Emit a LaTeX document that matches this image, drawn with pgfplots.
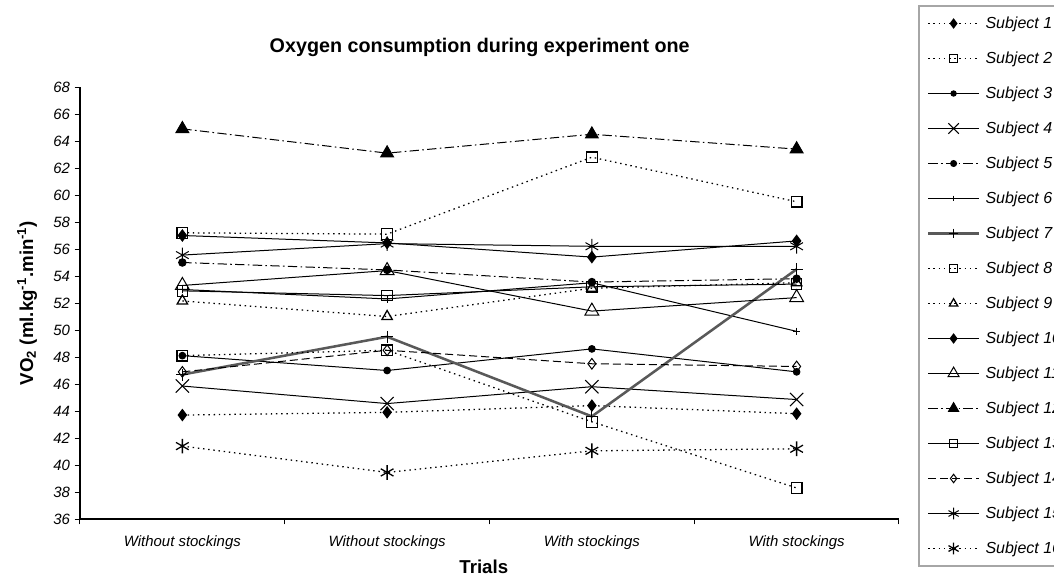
\documentclass[border=0pt]{standalone}
\usepackage{fontspec}
\setmainfont{Liberation Sans}
\usepackage{pgfplots}
\pgfplotsset{compat=1.18}
\tikzset{
  dotline/.style={line width=0.95pt, dash pattern=on 1.1pt off 2.8pt},
  dashdotline/.style={dash pattern=on 7pt off 2.5pt on 1.2pt off 2.5pt},
  dashline/.style={dash pattern=on 6pt off 3pt},
}
\begin{document}
\begin{tikzpicture}
\path[use as bounding box] (0,0) rectangle (790.5pt,432pt);
\begin{axis}[
  scale only axis, width=614.25pt, height=324pt,
  at={(60pt,42.75pt)}, anchor=south west,
  xmin=-0.5, xmax=3.5, ymin=36, ymax=68,
  axis x line*=bottom, axis y line*=left,
  axis line style={line width=0.9pt, black},
  xtick={0,1,2,3},
  xticklabels={Without stockings,Without stockings,With stockings,With stockings},
  major x tick style={draw=none},
  minor xtick={-0.5,0.5,1.5,2.5,3.5},
  ytick={36,38,...,68},
  tick align=outside, major tick length=4pt, minor tick length=4pt,
  every tick/.style={black, line width=0.75pt},
  ticklabel style={font=\fontsize{11.2}{13}\selectfont\itshape},
  /pgf/number format/assume math mode=true,
  xticklabel style={anchor=center, yshift=-14pt},
  title={Oxygen consumption during experiment one},
  title style={font=\bfseries\fontsize{14.8}{16}\selectfont, at={(axis description cs:0.488,1.072)}, anchor=center, yshift=0pt},
  xlabel={Trials},
  xlabel style={font=\bfseries\fontsize{14}{16}\selectfont, at={(axis description cs:0.493,-0.111)}, anchor=center},
  ylabel={VO\textsubscript{2} (ml.kg\textsuperscript{-1}.min\textsuperscript{-1})},
  ylabel style={font=\bfseries\fontsize{14}{16}\selectfont, at={(axis description cs:-0.0647,0.5)}, anchor=center},
  legend style={at={(axis description cs:1.0232,1.1898)}, anchor=north west,
    draw=gray!70, line width=1.5pt, fill=white,
    inner xsep=6pt, inner ysep=0pt,
    font=\fontsize{12}{14}\selectfont\itshape,
    nodes={inner sep=0pt, minimum height=26.25pt, line width=0.75pt},
    row sep=0pt, column sep=4pt},
  legend cell align=left,
  legend image code/.code={\draw[mark repeat=2,mark phase=2,#1,every mark/.append style={scale=0.8}] plot coordinates {(0pt,0pt)(19pt,0pt)(38pt,0pt)};},
]
\addplot[black, line width=0.75pt, dotline, mark=diamond*, mark size=4pt, mark options={solid,fill=black}] coordinates {(0,43.7)(1,43.9)(2,44.4)(3,43.8)};
\addlegendentry{Subject 1}
\addplot[black, line width=0.75pt, dotline, mark=square, mark size=4pt, mark options={solid}] coordinates {(0,57.2)(1,57.1)(2,62.8)(3,59.5)};
\addlegendentry{Subject 2}
\addplot[black, line width=0.75pt, mark=*, mark size=2.5pt, mark options={solid,fill=black}] coordinates {(0,48.1)(1,47.0)(2,48.6)(3,46.9)};
\addlegendentry{Subject 3}
\addplot[black, line width=0.75pt, mark=x, mark size=7pt, mark options={solid}] coordinates {(0,45.85)(1,44.55)(2,45.8)(3,44.85)};
\addlegendentry{Subject 4}
\addplot[black, line width=0.75pt, dashdotline, mark=*, mark size=2.8pt, mark options={solid,fill=black}] coordinates {(0,55.0)(1,54.45)(2,53.55)(3,53.8)};
\addlegendentry{Subject 5}
\addplot[black, line width=0.75pt, mark=+, mark size=2.8pt, mark options={solid}] coordinates {(0,53.0)(1,52.3)(2,53.5)(3,49.9)};
\addlegendentry{Subject 6}
\addplot[black!65, line width=1.9pt, mark=+, mark size=4.5pt, mark options={solid,black,line width=0.75pt}] coordinates {(0,46.7)(1,49.5)(2,43.6)(3,54.5)};
\addlegendentry{Subject 7}
\addplot[black, line width=0.75pt, dotline, mark=square, mark size=4pt, mark options={solid}] coordinates {(0,48.1)(1,48.5)(2,43.2)(3,38.3)};
\addlegendentry{Subject 8}
\addplot[black, line width=0.75pt, dotline, mark=triangle, mark size=4.5pt, mark options={solid}] coordinates {(0,52.15)(1,51.0)(2,53.1)(3,53.5)};
\addlegendentry{Subject 9}
\addplot[black, line width=0.75pt, mark=diamond*, mark size=4.2pt, mark options={solid,fill=black}] coordinates {(0,57.0)(1,56.45)(2,55.4)(3,56.6)};
\addlegendentry{Subject 10}
\addplot[black, line width=0.75pt, mark=triangle, mark size=6pt, mark options={solid}] coordinates {(0,53.3)(1,54.4)(2,51.4)(3,52.4)};
\addlegendentry{Subject 11}
\addplot[black, line width=0.75pt, dashdotline, mark=triangle*, mark size=5.5pt, mark options={solid,fill=black}] coordinates {(0,64.9)(1,63.1)(2,64.5)(3,63.4)};
\addlegendentry{Subject 12}
\addplot[black, line width=0.75pt, mark=square, mark size=4pt, mark options={solid}] coordinates {(0,52.9)(1,52.55)(2,53.2)(3,53.4)};
\addlegendentry{Subject 13}
\addplot[black, line width=0.75pt, dashline, mark=diamond, mark size=4pt, mark options={solid}] coordinates {(0,46.9)(1,48.5)(2,47.5)(3,47.3)};
\addlegendentry{Subject 14}
\addplot[black, line width=0.75pt, mark=asterisk, mark size=5.5pt, mark options={solid}] coordinates {(0,55.55)(1,56.4)(2,56.2)(3,56.2)};
\addlegendentry{Subject 15}
\addplot[black, line width=0.75pt, dotline, mark=asterisk, mark size=5.5pt, mark options={solid}] coordinates {(0,41.4)(1,39.45)(2,41.05)(3,41.2)};
\addlegendentry{Subject 16}
\end{axis}
\end{tikzpicture}
\end{document}
